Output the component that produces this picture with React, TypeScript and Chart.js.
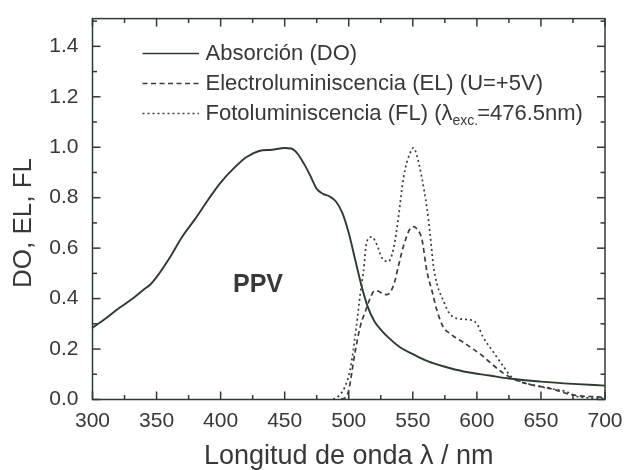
import React, { useEffect, useRef } from 'react';
import { Chart, registerables } from 'chart.js';

Chart.register(...registerables);

// ---- data ----
const absWl = [300, 310, 320, 330, 340, 345, 350, 360, 370, 380, 390, 400, 410, 420, 430, 440, 450, 455, 460, 465, 470, 475, 480, 485, 490, 495, 500, 505, 510, 515, 520, 525, 530, 540, 550, 560, 570, 580, 592, 610, 625, 650, 675, 700];
const absVal = [0.285, 0.32, 0.36, 0.395, 0.436, 0.455, 0.485, 0.56, 0.645, 0.715, 0.79, 0.86, 0.915, 0.96, 0.985, 0.99, 0.997, 0.995, 0.975, 0.935, 0.887, 0.835, 0.815, 0.805, 0.785, 0.74, 0.66, 0.555, 0.45, 0.365, 0.31, 0.277, 0.25, 0.207, 0.18, 0.155, 0.137, 0.123, 0.109, 0.095, 0.083, 0.071, 0.062, 0.055];

const elWl = [494, 499, 505, 509, 513, 517, 520, 523, 526, 530, 533, 536, 539, 543, 548, 551, 554, 557, 561, 565, 569, 574, 578, 582, 590, 597, 604, 610, 621, 634, 657, 675, 700];
const elVal = [0, 0.02, 0.19, 0.29, 0.35, 0.405, 0.43, 0.43, 0.42, 0.416, 0.43, 0.47, 0.534, 0.613, 0.678, 0.685, 0.67, 0.638, 0.508, 0.43, 0.35, 0.285, 0.265, 0.25, 0.225, 0.2, 0.175, 0.148, 0.103, 0.07, 0.044, 0.018, 0.009];

const flWl = [488, 493, 497, 501, 506, 509, 511.5, 514, 518, 522, 526, 531, 535, 539, 541.5, 544, 548, 550.5, 553, 557, 561, 563.5, 566, 569, 574, 579, 589, 595, 600, 605, 613, 621, 627, 635, 644, 655, 670, 678, 700];
const flVal = [0, 0.018, 0.05, 0.116, 0.29, 0.42, 0.508, 0.625, 0.645, 0.613, 0.56, 0.547, 0.6, 0.73, 0.835, 0.913, 0.978, 0.998, 0.97, 0.88, 0.76, 0.655, 0.534, 0.456, 0.39, 0.338, 0.318, 0.316, 0.3, 0.246, 0.187, 0.129, 0.09, 0.07, 0.057, 0.045, 0.031, 0.012, 0.004];

const xTickLabels = [300, 350, 400, 450, 500, 550, 600, 650, 700];
const xMinorTicks = [325, 375, 425, 475, 525, 575, 625, 675];
const yTickLabels = [0.0, 0.2, 0.4, 0.6, 0.8, 1.0, 1.2, 1.4];
const yMinorTicks = [0.1, 0.3, 0.5, 0.7, 0.9, 1.1, 1.3, 1.5];

const seriesNames = ['Absorción (DO)', 'Electroluminiscencia (EL) (U=+5V)', 'Fotoluminiscencia (FL) (λ'];
const flSub = 'exc.';
const flTail = '=476.5nm)';
const xTitle = 'Longitud de onda λ / nm';
const yTitle = 'DO, EL, FL';
const sampleName = 'PPV';

const INK = '#2f3a30';
const LINE2 = '#3a3d3a';
const TEXT = '#383838';
const FONT = '"Liberation Sans", Arial, Helvetica, sans-serif';

const toPts = (xs: number[], ys: number[]) => xs.map((x, i) => ({ x, y: ys[i] }));

const dashes: number[][] = [[], [5, 3.5], [2, 3]];

const decorPlugin = {
  id: 'decor',
  afterDatasetsDraw(chart: any) {
    const { ctx, chartArea: a, scales } = chart;
    const x = scales.x;
    const y = scales.y;
    ctx.save();
    ctx.strokeStyle = INK;
    ctx.lineWidth = 1.5;
    ctx.strokeRect(a.left, a.top, a.right - a.left, a.bottom - a.top);
    const line = (x1: number, y1: number, x2: number, y2: number) => {
      ctx.beginPath();
      ctx.moveTo(x1, y1);
      ctx.lineTo(x2, y2);
      ctx.stroke();
    };
    const xt = (v: number, len: number) => {
      const px = x.getPixelForValue(v);
      line(px, a.bottom, px, a.bottom - len);
      line(px, a.top, px, a.top + len);
    };
    const yt = (v: number, len: number) => {
      const py = y.getPixelForValue(v);
      if (py < a.top + 1) return;
      line(a.left, py, a.left + len, py);
      line(a.right, py, a.right - len, py);
    };
    xTickLabels.forEach((v) => xt(v, 8));
    xMinorTicks.forEach((v) => xt(v, 4.5));
    yTickLabels.forEach((v) => yt(v, 8));
    yMinorTicks.forEach((v) => yt(v, 4.5));

    // legend
    const lx1 = 142.5, lx2 = 199, tx = 205.5;
    const rows = [53.5, 83.5, 113.5];
    ctx.fillStyle = TEXT;
    ctx.textBaseline = 'middle';
    ctx.textAlign = 'left';
    rows.forEach((ry, i) => {
      ctx.save();
      ctx.strokeStyle = i === 0 ? INK : LINE2;
      ctx.lineWidth = 1.6;
      ctx.setLineDash(dashes[i]);
      line(lx1, ry, lx2, ry);
      ctx.restore();
      ctx.font = `22px ${FONT}`;
      ctx.fillText(seriesNames[i], tx, ry);
      if (i === 2) {
        const w = ctx.measureText(seriesNames[i]).width;
        ctx.font = `14px ${FONT}`;
        ctx.fillText(flSub, tx + w, ry + 8);
        const w2 = ctx.measureText(flSub).width;
        ctx.font = `22px ${FONT}`;
        ctx.fillText(flTail, tx + w + w2 - 1, ry);
      }
    });

    // sample label
    ctx.font = `bold 25px ${FONT}`;
    ctx.textAlign = 'center';
    ctx.fillText(sampleName, 258, 285);

    // y title
    ctx.save();
    ctx.translate(24, 223);
    ctx.rotate(-Math.PI / 2);
    ctx.font = `26px ${FONT}`;
    ctx.textAlign = 'center';
    ctx.fillText(yTitle, 0, 0);
    ctx.restore();

    ctx.restore();
  },
};

export default function App() {
  const ref = useRef<HTMLCanvasElement>(null);
  useEffect(() => {
    if (!ref.current) return;
    const common = { pointRadius: 0, fill: false, showLine: true, cubicInterpolationMode: 'monotone' as const };
    const chart = new Chart(ref.current, {
      type: 'scatter',
      data: {
        datasets: [
          { ...common, label: seriesNames[0], data: toPts(absWl, absVal), borderColor: INK, borderWidth: 1.9, borderDash: dashes[0] },
          { ...common, label: seriesNames[1], data: toPts(elWl, elVal), borderColor: LINE2, borderWidth: 1.7, borderDash: dashes[1] },
          { ...common, label: seriesNames[2], data: toPts(flWl, flVal), borderColor: LINE2, borderWidth: 1.7, borderDash: dashes[2] },
        ],
      },
      options: {
        responsive: false,
        animation: false,
        layout: { padding: { top: 15, right: 20, left: 0, bottom: 0 } },
        plugins: { legend: { display: false }, tooltip: { enabled: false } },
        scales: {
          x: {
            type: 'linear',
            min: 300,
            max: 700,
            grid: { display: false },
            border: { display: false },
            afterBuildTicks: (s: any) => { s.ticks = xTickLabels.map((v) => ({ value: v })); },
            afterFit: (s: any) => { s.height = 70.5; },
            ticks: { color: TEXT, font: { family: FONT, size: 21 }, padding: 1, maxRotation: 0, autoSkip: false, callback: (v: any) => String(v) },
            title: { display: true, text: xTitle, color: TEXT, font: { family: FONT, size: 27, lineHeight: 1.0 }, padding: { top: 0, bottom: 0 } },
          },
          y: {
            type: 'linear',
            min: 0,
            max: 1.51,
            grid: { display: false },
            border: { display: false },
            afterBuildTicks: (s: any) => { s.ticks = yTickLabels.map((v) => ({ value: v })); },
            afterFit: (s: any) => { s.width = 92.5; },
            ticks: { color: TEXT, font: { family: FONT, size: 21 }, padding: 6, autoSkip: false, callback: (v: any) => Number(v).toFixed(1) },
          },
        },
      },
      plugins: [decorPlugin],
    });
    return () => chart.destroy();
  }, []);
  return (
    <div style={{ position: 'absolute', left: 0, top: 0, width: 625, height: 470, background: '#fff' }}>
      <canvas ref={ref} width={625} height={470} style={{ width: 625, height: 470 }} />
    </div>
  );
}
